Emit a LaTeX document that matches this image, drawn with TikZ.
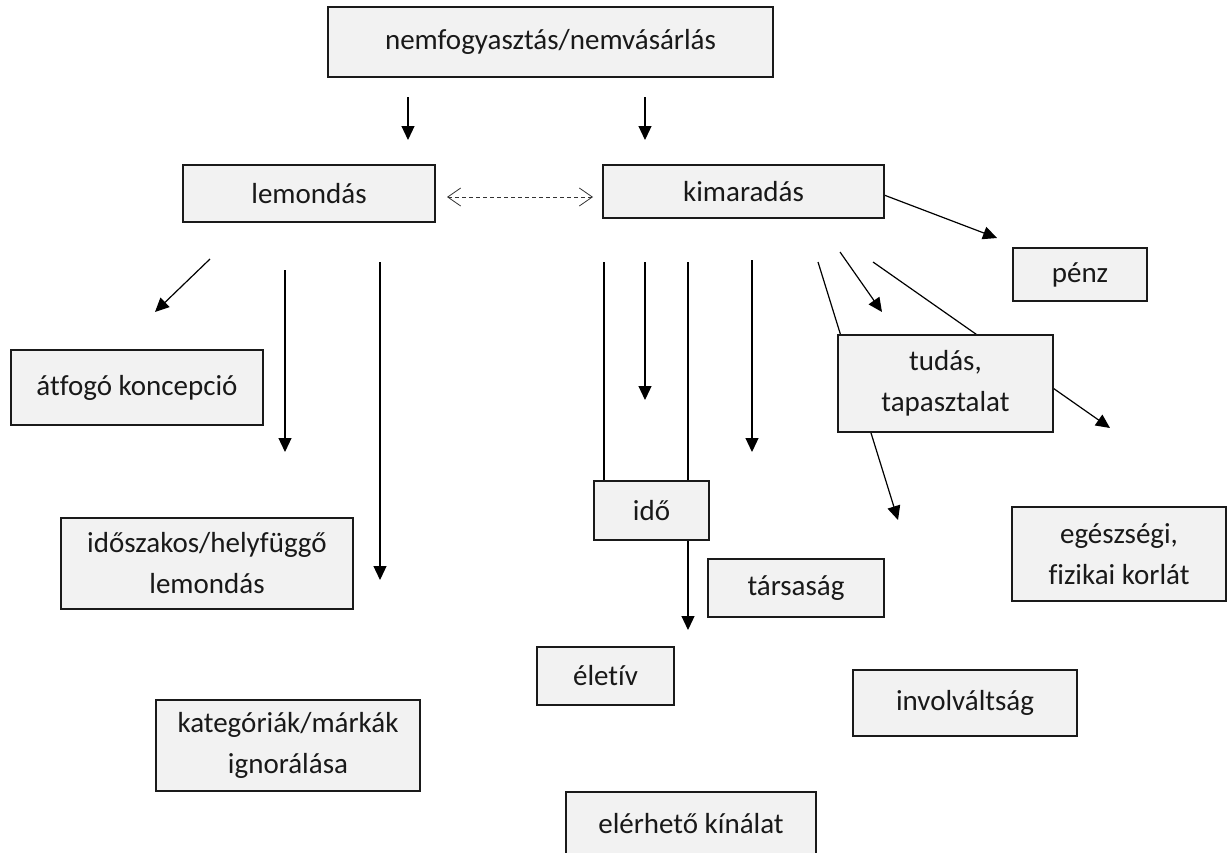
\documentclass[tikz,border=0pt]{standalone}
\usepackage{fontspec}
\setmainfont{Carlito}[Ligatures={NoCommon}]
\usetikzlibrary{arrows.meta,backgrounds}
\definecolor{boxfill}{HTML}{F2F2F2}
\definecolor{boxline}{HTML}{1A1A1A}
\tikzset{
  box/.style={draw=boxline, fill=boxfill, line width=2pt, inner sep=0pt, align=center,
    font=\fontsize{29}{41}\selectfont, text=black!90},
  conn/.style={draw=black, line width=1.2pt, -{Triangle[length=14pt,width=13pt]}},
  plainconn/.style={draw=black, line width=1.1pt},
  dashconn/.style={draw=black!80, line width=1pt, dash pattern=on 4pt off 3pt,
    {Straight Barb[length=13pt,width=18pt,line width=0.8pt]}-{Straight Barb[length=13pt,width=18pt,line width=0.8pt]}}
}
\begin{document}
\begin{tikzpicture}[x=1pt,y=-1pt]
\useasboundingbox (0,0) rectangle (1230,852);
\clip (0,0) rectangle (1230,852);

% nodes
\node[box, minimum width=445pt, minimum height=70pt] (top) at (550.5,42) {nemfogyasztás/nemvásárlás};
\node[box, minimum width=252pt, minimum height=57pt] (lem) at (309,193.5) {lemondás};
\node[box, minimum width=281pt, minimum height=53pt] (kim) at (743.5,191.5) {kimaradás};
\node[box, minimum width=134pt, minimum height=53pt] (penz) at (1080,274.5) {pénz};
\node[box, minimum width=252pt, minimum height=75pt] (atf) at (137,387.5) {átfogó koncepció};
\node[box, minimum width=292pt, minimum height=91pt] (idosz) at (207,563.5) {időszakos/helyfüggő\\lemondás};
\node[box, minimum width=264pt, minimum height=91pt] (kat) at (288,745.5) {kategóriák/márkák\\ignorálása};
\node[box, minimum width=115pt, minimum height=59pt] (ido) at (651.5,510.5) {idő};
\node[box, minimum width=215pt, minimum height=97pt] (tudas) at (945.5,383.5) {tudás,\\tapasztalat};
\node[box, minimum width=176pt, minimum height=58pt] (tars) at (796,588) {társaság};
\node[box, minimum width=137pt, minimum height=58pt] (elet) at (605.5,676) {életív};
\node[box, minimum width=224pt, minimum height=66pt] (inv) at (965,703) {involváltság};
\node[box, minimum width=214pt, minimum height=94pt] (egesz) at (1119,554) {egészségi,\\fizikai korlát};
\node[box, minimum width=250pt, minimum height=64pt] (eler) at (691,824) {elérhető kínálat};

% free connector ends
\coordinate (a1s) at (408,97);  \coordinate (a1e) at (408,140);
\coordinate (a2s) at (645,97);  \coordinate (a2e) at (645,140);
\coordinate (ds) at (447,197);  \coordinate (de) at (593,197);
\coordinate (p1s) at (884,195); \coordinate (p1e) at (997,238);
\coordinate (l1s) at (210,259); \coordinate (l1e) at (155,312);
\coordinate (l2s) at (285,270); \coordinate (l2e) at (285,452);
\coordinate (l3s) at (380,262); \coordinate (l3e) at (380,580);
\coordinate (k1s) at (604,262);
\coordinate (k2s) at (645,262); \coordinate (k2e) at (645,400);
\coordinate (k3s) at (688,262); \coordinate (k3e) at (688,630);
\coordinate (k4s) at (752,260); \coordinate (k4e) at (752,452);
\coordinate (k5s) at (818,262); \coordinate (k5e) at (898,520);
\coordinate (k6s) at (840,252); \coordinate (k6e) at (882,312);
\coordinate (k7s) at (873,262); \coordinate (k7e) at (1110,428);

\begin{scope}[on background layer]
\draw[conn] (a1s) -- (a1e);
\draw[conn] (a2s) -- (a2e);
\draw[dashconn] (ds) -- (de);
\draw[conn] (p1s) -- (p1e);
\draw[conn] (l1s) -- (l1e);
\draw[conn] (l2s) -- (l2e);
\draw[conn] (l3s) -- (l3e);
\draw[plainconn] (k1s) -- (k1s |- ido.north);
\draw[conn] (k2s) -- (k2e);
\draw[conn] (k3s) -- (k3e);
\draw[conn] (k4s) -- (k4e);
\draw[conn] (k5s) -- (k5e);
\draw[conn] (k6s) -- (k6e);
\draw[conn] (k7s) -- (k7e);
\end{scope}
\end{tikzpicture}
\end{document}
